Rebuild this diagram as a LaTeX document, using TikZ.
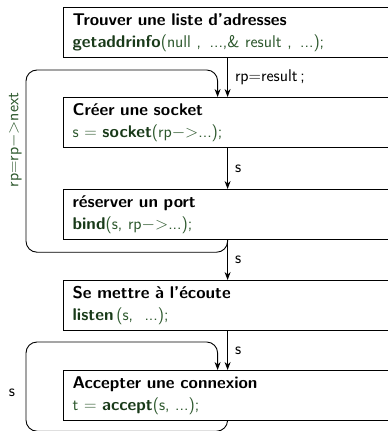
\documentclass[tikz,border=0pt]{standalone}
\usetikzlibrary{arrows.meta}
\definecolor{kwgreen}{RGB}{25,58,25}
\definecolor{argreen}{RGB}{45,88,45}
\newcommand{\kw}[1]{{\color{kwgreen}\bfseries #1}}
\newcommand{\ar}[1]{{\color{argreen}#1}}
\newcommand{\ptr}{$-$$>$}
\begin{document}
\begin{tikzpicture}[x=1pt,y=-1pt,
  stepbox/.style={draw, line width=1.2pt, anchor=north west,
    minimum width=328pt, minimum height=50pt, text width=310pt,
    inner xsep=9pt, align=left,
    font=\sffamily\fontsize{17}{22}\selectfont},
  arr/.style={line width=0.9pt, -{Stealth[length=8pt,width=6pt]}},
  lbl/.style={font=\sffamily\fontsize{17}{20}\selectfont, inner sep=0pt},
]
\useasboundingbox (0,0) rectangle (388,431);
\clip (0,0) rectangle (388,431);

% the five steps
\node[stepbox] (b1) at (63,7) {\textbf{Trouver une liste d'adresses}\\
  \kw{getaddrinfo}\ar{(null ,\ \,...,\& result ,\ \,...);}};
\node[stepbox] (b2) at (63,97) {\textbf{Créer une socket}\\
  \ar{s $=$ }\kw{socket}\ar{(rp\ptr...);}};
\node[stepbox] (b3) at (63,189) {\textbf{réserver un port}\\
  \kw{bind}\ar{(s,\ rp\ptr...);}};
\node[stepbox] (b4) at (63,280) {\textbf{Se mettre à l'écoute}\\
  \kw{listen}\ar{\,(s,\ \ ...);}};
\node[stepbox] (b5) at (63,370) {\textbf{Accepter une connexion}\\
  \ar{t $=$ }\kw{accept}\ar{(s,\ ...);}};

% straight flow between steps
\draw[arr] (b1.south) -- node[lbl, right=7pt] {rp=result\,;} (b2.north);
\draw[arr] (b2.south) -- node[lbl, right=7pt] {s} (b3.north);
\draw[arr] (b3.south) -- node[lbl, right=7pt] {s} (b4.north);
\draw[arr] (b4.south) -- node[lbl, right=7pt] {s} (b5.north);

% loop over the address list
\draw[arr, rounded corners=11pt] (b3.south) -- ++(0,12) -| (26,70)
  -| ([xshift=-10pt]b2.north);
\node[lbl, rotate=90, text=argreen] (nx) at (15,140) {rp=rp\ptr next};

% accept loop
\draw[arr, rounded corners=11pt] (b5.south) -- ++(0,10) -| (26,342)
  -| ([xshift=-10pt]b5.north);
\node[lbl] (sl) at (12,393) {s};
\end{tikzpicture}
\end{document}
